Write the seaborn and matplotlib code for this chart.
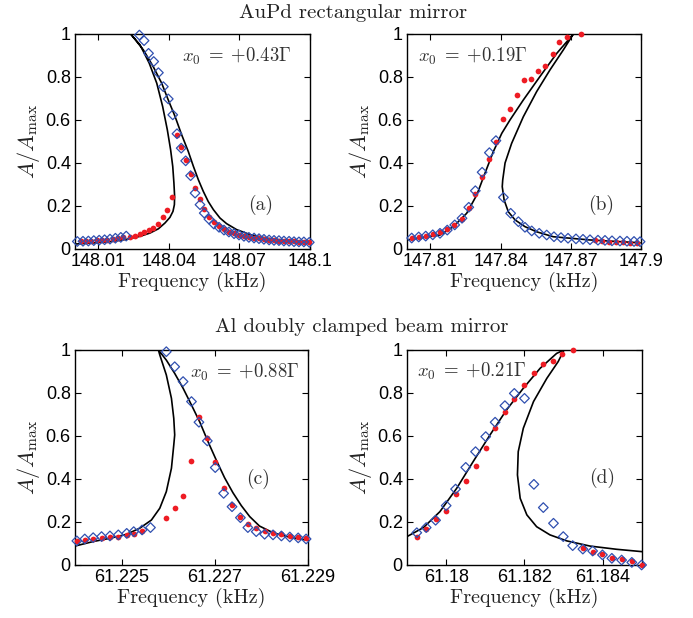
import seaborn as sns
import matplotlib.pyplot as plt

# ---- panel (a): AuPd rectangular mirror, x0 = +0.43 Gamma
a_red_f = [148.0024, 148.0047, 148.0070, 148.0092, 148.0115, 148.0138, 148.0160, 148.0183, 148.0206,
           148.0232, 148.0255, 148.0277, 148.0295, 148.0313, 148.0332, 148.0352, 148.0373, 148.0393,
           148.0413, 148.0433, 148.0452, 148.0471, 148.0492, 148.0511, 148.0532, 148.0550, 148.0570,
           148.0591, 148.0613, 148.0634, 148.0655, 148.0677, 148.0698, 148.0719, 148.0740, 148.0762,
           148.0783, 148.0804, 148.0826, 148.0847, 148.0868, 148.0889, 148.0911, 148.0932, 148.0953,
           148.0974, 148.0997]
a_red_A = [0.036, 0.037, 0.038, 0.040, 0.042, 0.044, 0.047, 0.050, 0.054,
           0.058, 0.062, 0.070, 0.079, 0.087, 0.099, 0.118, 0.147, 0.183,
           0.243, 0.531, 0.474, 0.415, 0.350, 0.283, 0.234, 0.186, 0.149,
           0.124, 0.105, 0.091, 0.080, 0.073, 0.065, 0.060, 0.056, 0.052,
           0.049, 0.046, 0.043, 0.041, 0.039, 0.037, 0.036, 0.035, 0.034,
           0.033, 0.032]
a_blue_f = [148.0010, 148.0034, 148.0057, 148.0080, 148.0103, 148.0126, 148.0149, 148.0172, 148.0195,
            148.0218, 148.0274, 148.0294, 148.0313, 148.0335, 148.0355, 148.0376, 148.0397, 148.0416,
            148.0434, 148.0452, 148.0471, 148.0492, 148.0511, 148.0532, 148.0550, 148.0570, 148.0591,
            148.0613, 148.0634, 148.0655, 148.0677, 148.0698, 148.0719, 148.0740, 148.0762, 148.0783,
            148.0804, 148.0826, 148.0847, 148.0868, 148.0889, 148.0911, 148.0932, 148.0953, 148.0974,
            148.0997]
a_blue_A = [0.035, 0.036, 0.037, 0.039, 0.041, 0.043, 0.046, 0.050, 0.054,
            0.060, 0.995, 0.969, 0.910, 0.872, 0.820, 0.755, 0.698, 0.624,
            0.536, 0.469, 0.410, 0.341, 0.260, 0.206, 0.167, 0.139, 0.116,
            0.101, 0.088, 0.079, 0.071, 0.065, 0.059, 0.054, 0.051, 0.048,
            0.045, 0.042, 0.040, 0.039, 0.037, 0.036, 0.034, 0.033, 0.033,
            0.031]
a_fit_f = [148.0000, 148.0078, 148.0149, 148.0220, 148.0277, 148.0319, 148.0355, 148.0383, 148.0404,
           148.0417, 148.0423, 148.0424, 148.0421, 148.0416, 148.0407, 148.0393, 148.0373, 148.0348,
           148.0316, 148.0277, 148.0237, 148.0291, 148.0333, 148.0369, 148.0397, 148.0426, 148.0454,
           148.0482, 148.0504, 148.0525, 148.0546, 148.0567, 148.0589, 148.0617, 148.0645, 148.0688,
           148.0745, 148.0816, 148.0901, 148.1000]
a_fit_A = [0.023, 0.028, 0.034, 0.045, 0.059, 0.074, 0.094, 0.121, 0.147,
           0.175, 0.206, 0.245, 0.307, 0.384, 0.461, 0.554, 0.663, 0.771,
           0.864, 0.949, 1.000, 0.926, 0.848, 0.771, 0.693, 0.616, 0.531,
           0.454, 0.384, 0.322, 0.268, 0.221, 0.183, 0.144, 0.118, 0.090,
           0.067, 0.050, 0.039, 0.031]

# ---- panel (b): AuPd rectangular mirror, x0 = +0.19 Gamma
b_red_f = [147.8020, 147.8050, 147.8080, 147.8110, 147.8140, 147.8170, 147.8201, 147.8235, 147.8264,
           147.8292, 147.8321, 147.8352, 147.8380, 147.8412, 147.8440, 147.8470, 147.8501, 147.8531,
           147.8561, 147.8591, 147.8623, 147.8651, 147.8682, 147.8742, 147.8803, 147.8833, 147.8863,
           147.8893, 147.8923, 147.8953, 147.8983]
b_red_A = [0.050, 0.055, 0.060, 0.068, 0.078, 0.092, 0.112, 0.141, 0.189,
           0.256, 0.333, 0.417, 0.499, 0.606, 0.651, 0.716, 0.786, 0.792,
           0.829, 0.852, 0.907, 0.964, 0.985, 1.000, 0.040, 0.036, 0.034,
           0.032, 0.031, 0.030, 0.029]
b_blue_f = [147.8020, 147.8050, 147.8080, 147.8110, 147.8141, 147.8172, 147.8204, 147.8235, 147.8264,
            147.8292, 147.8321, 147.8352, 147.8380, 147.8412, 147.8443, 147.8476, 147.8504, 147.8533,
            147.8565, 147.8597, 147.8628, 147.8658, 147.8688, 147.8722, 147.8752, 147.8782, 147.8816,
            147.8846, 147.8876, 147.8910, 147.8940, 147.8970, 147.8996]
b_blue_A = [0.051, 0.056, 0.060, 0.066, 0.073, 0.088, 0.112, 0.143, 0.194,
            0.271, 0.357, 0.448, 0.504, 0.240, 0.166, 0.127, 0.101, 0.084,
            0.073, 0.065, 0.057, 0.053, 0.050, 0.047, 0.045, 0.043, 0.041,
            0.040, 0.038, 0.037, 0.036, 0.035, 0.034]
b_fit_f = [147.8000, 147.8070, 147.8141, 147.8198, 147.8255, 147.8298, 147.8333, 147.8369, 147.8405,
           147.8440, 147.8497, 147.8568, 147.8640, 147.8704, 147.8711, 147.8668, 147.8611, 147.8554,
           147.8497, 147.8447, 147.8419, 147.8409, 147.8407, 147.8415, 147.8433, 147.8462, 147.8504,
           147.8554, 147.8625, 147.8782, 147.8996]
b_fit_A = [0.042, 0.054, 0.065, 0.104, 0.166, 0.251, 0.352, 0.453, 0.538,
           0.600, 0.693, 0.802, 0.910, 0.991, 1.000, 0.926, 0.833, 0.732,
           0.615, 0.491, 0.400, 0.321, 0.290, 0.228, 0.173, 0.135, 0.104,
           0.080, 0.057, 0.042, 0.029]

# ---- panel (c): Al doubly clamped beam mirror, x0 = +0.88 Gamma
c_red_f = [61.22404, 61.22421, 61.22439, 61.22457, 61.22475, 61.22493, 61.22511, 61.22526, 61.22544,
           61.22596, 61.22614, 61.22632, 61.22650, 61.22666, 61.22684, 61.22701, 61.22719, 61.22737,
           61.22755, 61.22771, 61.22789, 61.22807, 61.22825, 61.22843, 61.22861, 61.22879, 61.22896]
c_red_A = [0.113, 0.116, 0.121, 0.124, 0.129, 0.132, 0.140, 0.146, 0.158,
           0.217, 0.264, 0.322, 0.484, 0.690, 0.592, 0.481, 0.360, 0.279,
           0.225, 0.189, 0.174, 0.158, 0.147, 0.143, 0.136, 0.129, 0.124]
c_blue_f = [61.22404, 61.22421, 61.22439, 61.22457, 61.22475, 61.22493, 61.22511, 61.22526, 61.22544,
            61.22562, 61.22596, 61.22614, 61.22632, 61.22650, 61.22666, 61.22684, 61.22701, 61.22719,
            61.22737, 61.22755, 61.22771, 61.22789, 61.22807, 61.22825, 61.22843, 61.22861, 61.22879,
            61.22896]
c_blue_A = [0.112, 0.121, 0.127, 0.132, 0.135, 0.140, 0.147, 0.155, 0.163,
            0.174, 0.992, 0.922, 0.853, 0.760, 0.664, 0.577, 0.453, 0.333,
            0.271, 0.220, 0.174, 0.155, 0.143, 0.140, 0.135, 0.130, 0.126,
            0.121]
c_fit_f = [61.22400, 61.22439, 61.22475, 61.22511, 61.22539, 61.22564, 61.22582, 61.22596, 61.22607,
           61.22612, 61.22614, 61.22612, 61.22607, 61.22596, 61.22582, 61.22579, 61.22596, 61.22614,
           61.22632, 61.22650, 61.22668, 61.22686, 61.22704, 61.22721, 61.22739, 61.22757, 61.22775,
           61.22796, 61.22825, 61.22861, 61.22900]
c_fit_A = [0.088, 0.109, 0.124, 0.143, 0.171, 0.209, 0.264, 0.341, 0.450,
           0.558, 0.605, 0.682, 0.775, 0.884, 0.977, 1.000, 0.953, 0.891,
           0.822, 0.744, 0.664, 0.571, 0.484, 0.406, 0.336, 0.276, 0.225,
           0.181, 0.150, 0.129, 0.115]

# ---- panel (d): Al doubly clamped beam mirror, x0 = +0.21 Gamma
d_red_f = [61.17925, 61.17949, 61.17973, 61.18000, 61.18024, 61.18050, 61.18075, 61.18101, 61.18125,
           61.18150, 61.18174, 61.18200, 61.18224, 61.18248, 61.18274, 61.18297, 61.18323, 61.18349,
           61.18374, 61.18399, 61.18423, 61.18448, 61.18474, 61.18499]
d_red_A = [0.132, 0.167, 0.214, 0.251, 0.329, 0.391, 0.462, 0.546, 0.636,
           0.710, 0.772, 0.837, 0.895, 0.933, 0.950, 0.980, 1.000, 0.081,
           0.062, 0.050, 0.034, 0.028, 0.019, 0.000]
d_blue_f = [61.17925, 61.17949, 61.17973, 61.18000, 61.18024, 61.18050, 61.18075, 61.18101, 61.18125,
            61.18150, 61.18174, 61.18200, 61.18224, 61.18248, 61.18274, 61.18299, 61.18323, 61.18349,
            61.18374, 61.18399, 61.18423, 61.18448, 61.18474, 61.18499]
d_blue_A = [0.150, 0.174, 0.208, 0.276, 0.353, 0.454, 0.527, 0.597, 0.664,
            0.741, 0.798, 0.775, 0.375, 0.267, 0.194, 0.132, 0.090, 0.074,
            0.065, 0.047, 0.031, 0.023, 0.012, 0.000]
d_fit_f = [61.17900, 61.17942, 61.17984, 61.18027, 61.18069, 61.18112, 61.18154, 61.18197, 61.18240,
           61.18282, 61.18301, 61.18286, 61.18257, 61.18223, 61.18197, 61.18184, 61.18182, 61.18189,
           61.18206, 61.18231, 61.18265, 61.18308, 61.18367, 61.18435, 61.18500]
d_fit_A = [0.132, 0.174, 0.248, 0.357, 0.481, 0.605, 0.721, 0.822, 0.915,
           0.984, 1.000, 0.946, 0.868, 0.760, 0.636, 0.527, 0.419, 0.310,
           0.233, 0.178, 0.140, 0.112, 0.088, 0.073, 0.062]

panels = [
    dict(red=(a_red_f, a_red_A), blue=(a_blue_f, a_blue_A), fit=(a_fit_f, a_fit_A),
         xlim=(148.0, 148.1), xticks=[148.01, 148.04, 148.07, 148.1],
         xlabels=["148.01", "148.04", "148.07", "148.1"],
         x0=r"$x_0\;=\;{+}0.43\Gamma$", x0pos=(0.69, 0.895), tag="(a)", tagpos=(0.79, 0.205),
         rect=[0.1082, 0.5971, 0.3391, 0.3479]),
    dict(red=(b_red_f, b_red_A), blue=(b_blue_f, b_blue_A), fit=(b_fit_f, b_fit_A),
         xlim=(147.8, 147.9), xticks=[147.81, 147.84, 147.87, 147.9],
         xlabels=["147.81", "147.84", "147.87", "147.9"],
         x0=r"$x_0\;=\;{+}0.19\Gamma$", x0pos=(0.28, 0.895), tag="(b)", tagpos=(0.83, 0.205),
         rect=[0.5873, 0.5971, 0.3377, 0.3479]),
    dict(red=(c_red_f, c_red_A), blue=(c_blue_f, c_blue_A), fit=(c_fit_f, c_fit_A),
         xlim=(61.224, 61.229), xticks=[61.225, 61.227, 61.229],
         xlabels=["61.225", "61.227", "61.229"],
         x0=r"$x_0\;=\;{+}0.88\Gamma$", x0pos=(0.73, 0.895), tag="(c)", tagpos=(0.785, 0.40),
         rect=[0.1082, 0.0858, 0.3362, 0.3479]),
    dict(red=(d_red_f, d_red_A), blue=(d_blue_f, d_blue_A), fit=(d_fit_f, d_fit_A),
         xlim=(61.179, 61.185), xticks=[61.18, 61.182, 61.184],
         xlabels=["61.18", "61.182", "61.184"],
         x0=r"$x_0\;=\;{+}0.21\Gamma$", x0pos=(0.275, 0.9), tag="(d)", tagpos=(0.83, 0.405),
         rect=[0.5873, 0.0858, 0.3391, 0.3479]),
]

sns.set_style("white")
plt.rcParams["mathtext.fontset"] = "cm"
plt.rcParams["axes.unicode_minus"] = False
serif = "cmr10"
red = "#ee1c24"
blue = "#3050b0"

fig = plt.figure(figsize=(6.93, 6.18), dpi=100)
for p in panels:
    ax = fig.add_axes(p["rect"])
    sns.lineplot(x=p["fit"][0], y=p["fit"][1], sort=False, estimator=None,
                 color="black", linewidth=1.2, ax=ax)
    sns.scatterplot(x=p["red"][0], y=p["red"][1], marker="o", s=17, color=red,
                    edgecolor=red, linewidth=0, ax=ax, clip_on=False, zorder=3)
    sns.scatterplot(x=p["blue"][0], y=p["blue"][1], marker="D", s=24, facecolors="none",
                    edgecolor=blue, linewidth=0.9, ax=ax, clip_on=False, zorder=4)
    ax.set_xlim(*p["xlim"])
    ax.set_ylim(0, 1)
    ax.set_xticks(p["xticks"])
    ax.set_xticklabels(p["xlabels"])
    ax.set_yticks([0, 0.2, 0.4, 0.6, 0.8, 1])
    ax.set_yticklabels(["0", "0.2", "0.4", "0.6", "0.8", "1"])
    ax.tick_params(direction="in", bottom=True, left=True, top=True, right=True,
                   length=4, width=0.8, color="black", labelcolor="black",
                   labelsize=13, pad=3)
    for lab in ax.get_xticklabels() + ax.get_yticklabels():
        lab.set_family("Liberation Sans")
    for s in ax.spines.values():
        s.set_linewidth(1.0)
        s.set_color("black")
    ax.set_xlabel("Frequency (kHz)", family=serif, fontsize=14.5, labelpad=1,
                  color="#222222")
    ax.set_ylabel(r"$A/A_{\rm max}$", fontsize=16, labelpad=3, color="#222222")
    ax.text(*p["x0pos"], p["x0"], transform=ax.transAxes, fontsize=13.5,
            ha="center", va="center", color="#333333")
    ax.text(*p["tagpos"], p["tag"], transform=ax.transAxes, fontsize=14,
            family=serif, ha="center", va="center", color="#333333")

fig.text(0.51, 0.979, "AuPd rectangular mirror", family=serif, fontsize=15,
         ha="center", va="center", color="#222222")
fig.text(0.522, 0.471, "Al doubly clamped beam mirror", family=serif, fontsize=15,
         ha="center", va="center", color="#222222")

fig.savefig("out.png", dpi=100)
